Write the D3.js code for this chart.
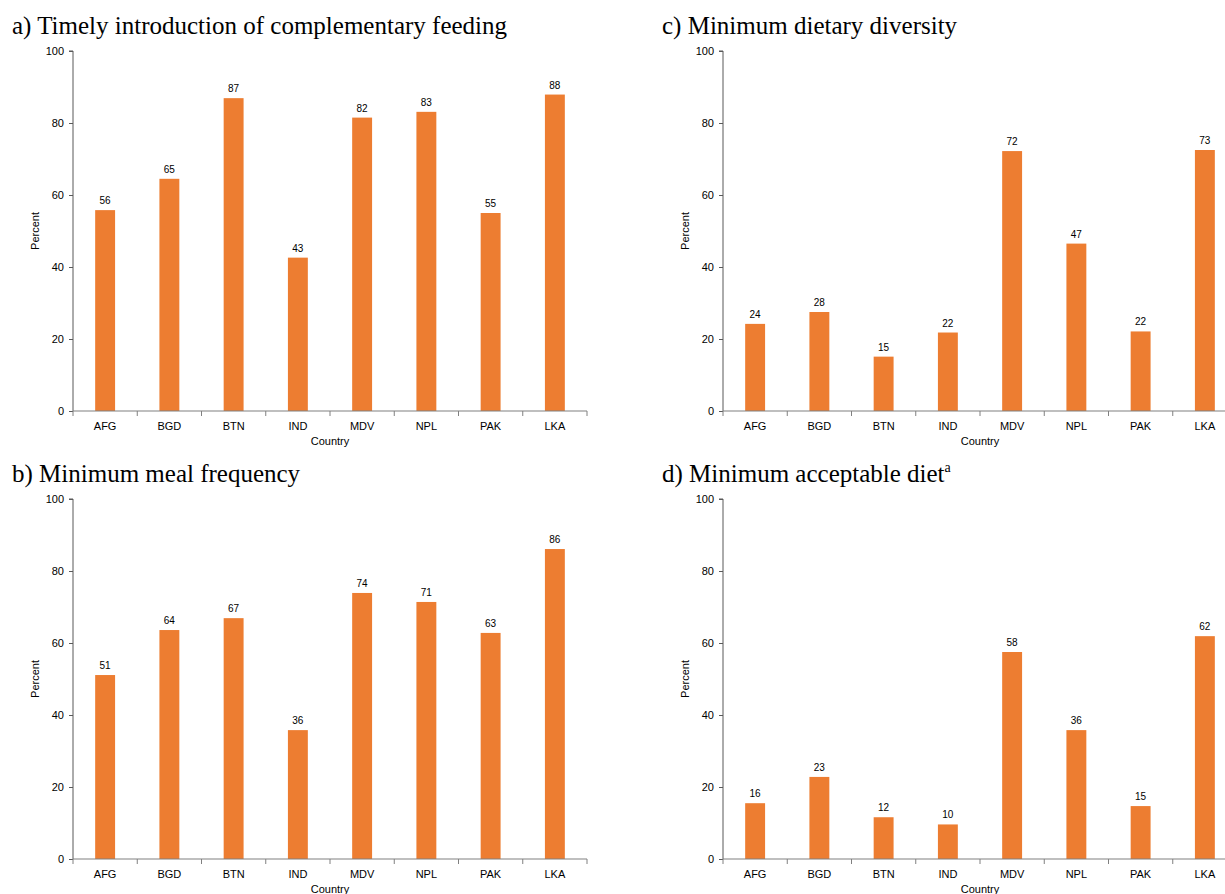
<!DOCTYPE html>
<html>
<head>
<meta charset="utf-8">
<script src="https://cdn.jsdelivr.net/npm/d3@7"></script>
<style>
  body { margin: 0; background: #fff; }
  svg { display: block; }
</style>
</head>
<body>
<svg id="chart" width="1225" height="894"></svg>
<script>
const countries = ["AFG", "BGD", "BTN", "IND", "MDV", "NPL", "PAK", "LKA"]
const yTicks = [0, 20, 40, 60, 80, 100]

// percent values
const timelyIntro = [55.8, 64.5, 86.9, 42.6, 81.5, 83.1, 55.0, 87.9]
const mealFreq = [51.1, 63.6, 66.9, 35.8, 73.9, 71.4, 62.8, 86.1]
const dietDiversity = [24.2, 27.5, 15.1, 21.8, 72.2, 46.5, 22.1, 72.5]
const acceptableDiet = [15.5, 22.8, 11.6, 9.6, 57.5, 35.8, 14.7, 61.9]

const panels = [
  {title: "a) Timely introduction of complementary feeding", values: timelyIntro, x: 0, y: 0},
  {title: "b) Minimum meal frequency", values: mealFreq, x: 0, y: 448},
  {title: "c) Minimum dietary diversity", values: dietDiversity, x: 650, y: 0},
  {title: "d) Minimum acceptable diet", sup: "a", values: acceptableDiet, x: 650, y: 448}
]

const svg = d3.select("#chart")
const barColor = "#ED7D31"

panels.forEach(p => {
  const g = svg.append("g").attr("transform", `translate(${p.x},${p.y})`)

  // title
  const t = g.append("text")
    .attr("x", 12).attr("y", 34)
    .attr("font-family", "'Liberation Serif', 'Times New Roman', serif")
    .attr("font-size", 25)
    .attr("fill", "#000")
    .text(p.title)
  if (p.sup) {
    t.append("tspan").attr("font-size", 14).attr("dy", -10).text(p.sup)
  }

  const left = 73, top = 51, bottom = 411
  const x = d3.scaleBand().domain(countries).range([left, left + 514]).paddingInner(0.69).paddingOuter(0.345)
  const y = d3.scaleLinear().domain([0, 100]).range([bottom, top])

  // bars
  g.selectAll("rect.bar")
    .data(p.values)
    .join("rect")
    .attr("class", "bar")
    .attr("x", (d, i) => x(countries[i]))
    .attr("width", x.bandwidth())
    .attr("y", d => y(d))
    .attr("height", d => y(0) - y(d))
    .attr("fill", barColor)

  // value labels
  g.selectAll("text.val")
    .data(p.values)
    .join("text")
    .attr("class", "val")
    .attr("x", (d, i) => x(countries[i]) + x.bandwidth() / 2)
    .attr("y", d => y(d) - 6)
    .attr("text-anchor", "middle")
    .attr("font-family", "'Liberation Sans', Arial, sans-serif")
    .attr("font-size", 10)
    .attr("fill", "#000")
    .text(d => Math.round(d))

  // y axis
  const yAxis = g.append("g")
    .attr("transform", `translate(${left},0)`)
    .call(d3.axisLeft(y).tickValues(yTicks).tickSize(4).tickPadding(5))
  yAxis.select(".domain").attr("stroke", "#595959").attr("d", `M-4,${top}H0V${bottom}`)
  yAxis.selectAll(".tick line").attr("stroke", "#595959")
  yAxis.selectAll(".tick text")
    .attr("font-family", "'Liberation Sans', Arial, sans-serif")
    .attr("font-size", 11).attr("fill", "#000")

  // x axis: ticks at category boundaries
  const xAxis = g.append("g").attr("transform", `translate(0,${bottom})`)
  xAxis.append("line")
    .attr("x1", left).attr("x2", left + 514)
    .attr("stroke", "#808080").attr("stroke-width", 1.2)
  const step = x.step()
  const bounds = d3.range(countries.length + 1).map(i => left + i * step)
  xAxis.selectAll("line.tk")
    .data(bounds)
    .join("line")
    .attr("class", "tk")
    .attr("x1", d => d).attr("x2", d => d)
    .attr("y1", 0).attr("y2", 5)
    .attr("stroke", "#808080")
  xAxis.selectAll("text.lab")
    .data(countries)
    .join("text")
    .attr("class", "lab")
    .attr("x", d => x(d) + x.bandwidth() / 2)
    .attr("y", 19)
    .attr("text-anchor", "middle")
    .attr("font-family", "'Liberation Sans', Arial, sans-serif")
    .attr("font-size", 11)
    .attr("fill", "#000")
    .text(d => d)

  // axis titles
  g.append("text")
    .attr("x", left + 257).attr("y", bottom + 34)
    .attr("text-anchor", "middle")
    .attr("font-family", "'Liberation Sans', Arial, sans-serif")
    .attr("font-size", 11)
    .text("Country")
  g.append("text")
    .attr("transform", `translate(39,${(top + bottom) / 2}) rotate(-90)`)
    .attr("text-anchor", "middle")
    .attr("font-family", "'Liberation Sans', Arial, sans-serif")
    .attr("font-size", 11)
    .text("Percent")
})
</script>
</body>
</html>
